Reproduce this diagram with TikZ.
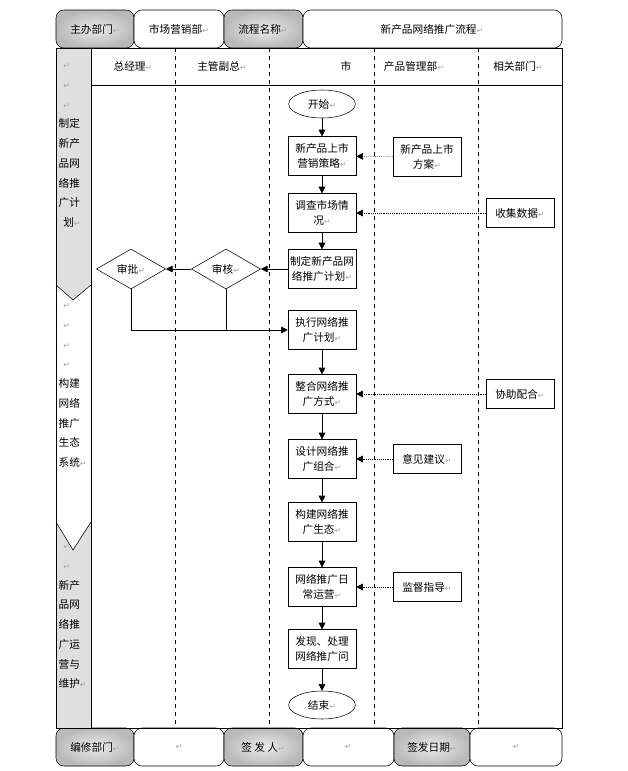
\documentclass[tikz,border=0pt]{standalone}
\usepackage{fontspec}
\setmainfont{Noto Sans CJK SC}
\newfontfamily\retfont{DejaVu Sans}
\usetikzlibrary{shapes.geometric,arrows.meta}
\newcommand{\ret}{{\retfont\color{gray!70}\fontsize{6}{6}\selectfont ↵}}
\tikzset{
  task/.style={draw,fill=white,minimum width=51pt,minimum height=29pt,inner sep=1pt,align=center,font=\fontsize{8}{11}\selectfont},
  side/.style={draw,fill=white,minimum width=51pt,minimum height=22pt,inner sep=1pt,align=center,font=\fontsize{8}{11}\selectfont},
  term/.style={draw,ellipse,fill=white,minimum width=50pt,minimum height=21pt,inner sep=0pt,font=\fontsize{8}{10}\selectfont},
  check/.style={draw,diamond,aspect=1.75,fill=white,minimum width=52pt,minimum height=30pt,inner sep=0pt,font=\fontsize{8}{10}\selectfont},
  hgray/.style={draw,rounded corners=6pt,inner color=gray!15,outer color=gray!55},
  hwhite/.style={draw,rounded corners=6pt,fill=white},
  lane/.style={dashed},
  flow/.style={-{Triangle[length=5pt,width=5pt]}},
  feed/.style={densely dotted,-{Triangle[length=5pt,width=5pt]}},
  lbl/.style={font=\fontsize{8}{10}\selectfont},
  phase/.style={font=\fontsize{8}{14.8}\selectfont,anchor=north west,align=left,inner sep=1pt},
}
\begin{document}
\begin{tikzpicture}[x=0.75pt,y=-0.75pt]
\useasboundingbox (0,0) rectangle (628,771);

% header row
\draw[hgray] (56,10) rectangle (134,48);
\draw[hwhite] (134,10) rectangle (224,48);
\draw[hgray] (224,10) rectangle (303,48);
\draw[hwhite] (303,10) rectangle (562,48);
\node[lbl] at (95,29) {主办部门\ret};
\node[lbl] at (179,29) {市场营销部\ret};
\node[lbl] at (263,29) {流程名称\ret};
\node[lbl] at (432,29) {新产品网络推广流程\ret};

% footer row
\draw[hgray] (56,728) rectangle (134,766);
\draw[hwhite] (134,728) rectangle (224,766);
\draw[hgray] (224,728) rectangle (303,766);
\draw[hwhite] (303,728) rectangle (394,766);
\draw[hgray] (394,728) rectangle (470,766);
\draw[hwhite] (470,728) rectangle (562,766);
\node[lbl] at (95,747) {编修部门\ret};
\node[lbl] at (179,747) {\ret};
\node[lbl] at (263,747) {签\ 发\ 人\ret};
\node[lbl] at (348,747) {\ret};
\node[lbl] at (432,747) {签发日期\ret};
\node[lbl] at (516,747) {\ret};

% phase column
\fill[gray!25] (56,48) -- (91,48) -- (91,285) -- (73,300) -- (56,285) -- cycle;
\fill[gray!25] (56,522) -- (73,550) -- (91,522) -- (91,728) -- (56,728) -- cycle;
\draw (56,285) -- (73,300) -- (91,285);
\draw (56,522) -- (73,550) -- (91,522);
\draw (56,48) rectangle (562,728);
\draw (91,48) -- (91,728);
\draw (91,85) -- (562,85);
\foreach \x in {175,269,374,478} \draw[lane] (\x,48) -- (\x,728);

% lane titles
\node[lbl] at (133,66) {总经理\ret};
\node[lbl] at (222,66) {主管副总\ret};
\node[lbl] at (346,66) {市};
\node[lbl] at (414,66) {产品管理部\ret};
\node[lbl] at (518,66) {相关部门\ret};

% phase texts
\node[phase] at (57,62)
  {\ \ \ret\\\ \ \ret\\\ \ \ret\\制定\\新产\\品网\\络推\\广计\\\ \ 划\ret};
\node[phase] at (57,302)
  {\ \ \ret\\\ \ \ret\\\ \ \ret\\\ \ \ret\\构建\\网络\\推广\\生态\\系统\ret};
\node[phase] at (57,543)
  {\ \ \ret\\\ \ \ret\\新产\\品网\\络推\\广运\\营与\\维护\ret};

% main flow
\node[term] (start) at (322,104) {开始\ret};
\node[task] (strategy) at (322,156) {新产品上市\\营销策略\ret};
\node[task] (survey) at (322,213) {调查市场情\\况\ret};
\node[task] (plan) at (322,269) {制定新产品网\\络推广计划\ret};
\node[task] (exec) at (322,330) {执行网络推\\广计划\ret};
\node[task] (merge) at (322,394) {整合网络推\\广方式\ret};
\node[task] (design) at (322,459) {设计网络推\\广组合\ret};
\node[task] (build) at (322,522) {构建网络推\\广生态\ret};
\node[task] (operate) at (322,587) {网络推广日\\常运营\ret};
\node[task] (solve) at (322,649) {发现、处理\\网络推广问};
\node[term] (stop) at (322,705) {结束\ret};

% checks
\node[check] (review) at (226,269) {审核\ret};
\node[check] (approve) at (131,269) {审批\ret};

% side inputs
\node[task] (scheme) at (427,157) {新产品上市\\方案\ret};
\node[side] (data) at (520,213) {收集数据\ret};
\node[side] (assist) at (520,394) {协助配合\ret};
\node[side] (advice) at (427,459) {意见建议\ret};
\node[side] (guide) at (427,587) {监督指导\ret};

\draw[flow] (start) -- (strategy);
\draw[flow] (strategy) -- (survey);
\draw[flow] (survey) -- (plan);
\draw[flow] (plan) -- (review);
\draw[flow] (review) -- (approve);
\draw[flow] (approve.south) |- (exec.west);
\draw (review.south) -- (review.south |- exec.west);
\draw[flow] (exec) -- (merge);
\draw[flow] (merge) -- (design);
\draw[flow] (design) -- (build);
\draw[flow] (build) -- (operate);
\draw[flow] (operate) -- (solve);
\draw[flow] (solve) -- (stop);

\draw[feed] (scheme) -- (strategy);
\draw[feed] (data) -- (survey);
\draw[feed] (assist) -- (merge);
\draw[feed] (advice) -- (design);
\draw[feed] (guide) -- (operate);
\end{tikzpicture}
\end{document}
